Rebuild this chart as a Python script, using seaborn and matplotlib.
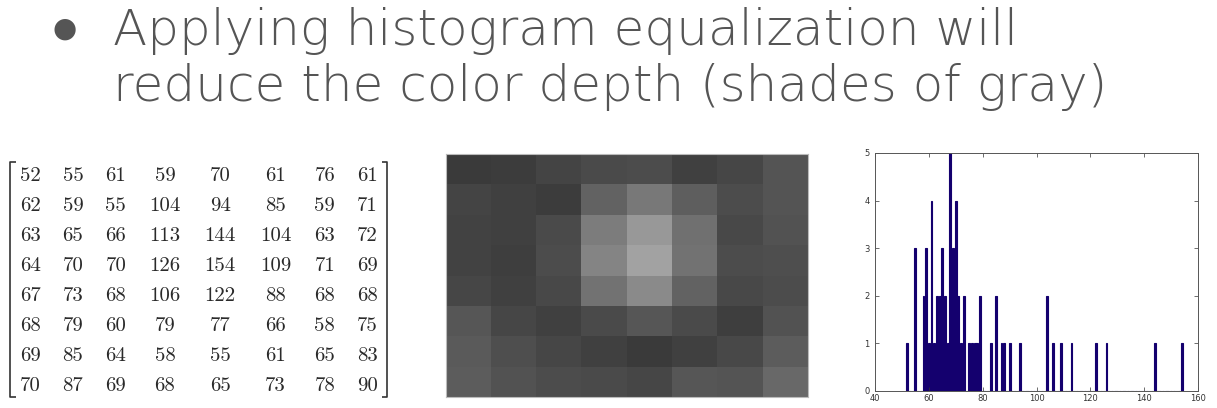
import numpy as np
import pandas as pd
import seaborn as sns
import matplotlib
matplotlib.use('Agg')
import matplotlib.pyplot as plt

# slide text
title_lines = ["Applying histogram equalization will",
               "reduce the color depth (shades of gray)"]

# 8x8 sub-image values (as printed on the slide)
row1 = [52, 55, 61, 59, 70, 61, 76, 61]
row2 = [62, 59, 55, 104, 94, 85, 59, 71]
row3 = [63, 65, 66, 113, 144, 104, 63, 72]
row4 = [64, 70, 70, 126, 154, 109, 71, 69]
row5 = [67, 73, 68, 106, 122, 88, 68, 68]
row6 = [68, 79, 60, 79, 77, 66, 58, 75]
row7 = [69, 85, 64, 58, 55, 61, 65, 83]
row8 = [70, 87, 69, 68, 65, 73, 78, 90]

# gray levels as they appear in the pictured image (read by eye)
gray1 = [58, 60, 68, 74, 76, 64, 70, 84]
gray2 = [68, 64, 60, 98, 120, 94, 76, 84]
gray3 = [66, 64, 74, 124, 152, 112, 72, 82]
gray4 = [66, 62, 76, 132, 162, 114, 76, 78]
gray5 = [70, 64, 72, 114, 138, 98, 72, 76]
gray6 = [86, 70, 64, 74, 86, 74, 62, 82]
gray7 = [90, 78, 70, 64, 58, 64, 72, 92]
gray8 = [92, 82, 76, 74, 70, 86, 84, 104]

hist_xticks = [40, 60, 80, 100, 120, 140, 160]
hist_yticks = [0, 1, 2, 3, 4, 5]

img = np.array([row1, row2, row3, row4, row5, row6, row7, row8])
shown = np.array([gray1, gray2, gray3, gray4, gray5, gray6, gray7, gray8])

W, H = 1217, 408
fig = plt.figure(figsize=(W / 100, H / 100), dpi=100)
fig.patch.set_facecolor('white')

def px_axes(x0, y0, x1, y1):
    return fig.add_axes([x0 / W, 1 - y1 / H, (x1 - x0) / W, (y1 - y0) / H])

# ---- title with bullet
txt_color = '#555555'
fig.text(65 / W, 1 - 29 / H, u'\u25CF', fontsize=20, color='#555555',
         ha='center', va='center', family='DejaVu Sans')
for k, yb in enumerate([45, 101]):
    fig.text(113 / W, 1 - yb / H, title_lines[k], fontsize=36, color=txt_color,
             family='DejaVu Sans', fontweight='light', va='baseline')

# ---- matrix as text
ax_m = px_axes(8.75, 160, 389, 400)
ndig = [max(len(str(v)) for v in img[:, j]) for j in range(img.shape[1])]
widths = np.array(ndig) + 1.4
edges = np.concatenate([[0], np.cumsum(widths)])
centers = (edges[:-1] + edges[1:]) / 2
total = edges[-1]
ax_m.set_xlim(0, total)
ax_m.set_ylim(img.shape[0], 0)
ax_m.axis('off')
for i in range(img.shape[0]):
    for j in range(img.shape[1]):
        ax_m.text(centers[j], i + 0.55, str(img[i, j]), ha='center', va='center',
                  fontsize=15, family='cmr10', color='#2a2a2a')
for xb, d in [(0.12, 1), (total - 0.12, -1)]:
    ax_m.plot([xb + d * 0.45, xb, xb, xb + d * 0.45], [0.07, 0.07, 7.9, 7.9],
              color='#333333', lw=1.2, solid_capstyle='butt')

# ---- grayscale image
ax_i = px_axes(445.5, 154, 808, 397)
sns.heatmap(shown, cmap='gray', vmin=0, vmax=255, cbar=False,
            xticklabels=False, yticklabels=False, ax=ax_i)
for s in ax_i.spines.values():
    s.set_visible(True)
    s.set_color('#bbbbbb')
    s.set_linewidth(0.8)

# ---- histogram
ax_h = px_axes(875, 153, 1198, 391)
df = pd.DataFrame({'value': img.ravel()})
sns.histplot(data=df, x='value', discrete=True, shrink=0.7, color='#14006e',
             edgecolor='#14006e', linewidth=0.8, alpha=1, ax=ax_h)
ax_h.set_xlim(40, 160)
ax_h.set_ylim(0, 5)
ax_h.set_xticks(hist_xticks)
ax_h.set_yticks(hist_yticks)
ax_h.set_xlabel('')
ax_h.set_ylabel('')
ax_h.tick_params(direction='in', top=True, right=True, labelsize=6,
                 length=3, width=0.5, colors='#333333')
ax_h.tick_params(axis='x', pad=2)
ax_h.tick_params(axis='y', pad=4)
for s in ax_h.spines.values():
    s.set_color('#555555')
    s.set_linewidth(0.7)

fig.savefig('out.png', dpi=100)
